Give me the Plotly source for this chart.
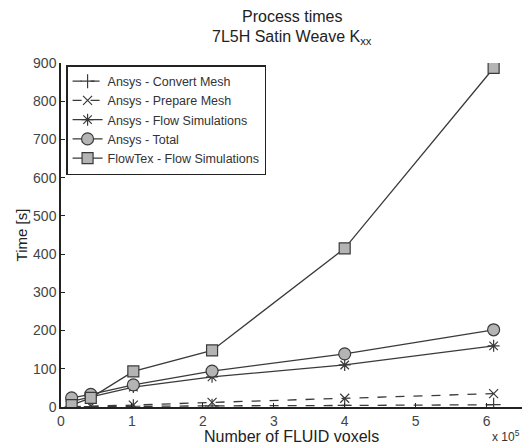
import plotly.graph_objects as go

x_vals = [0.15, 0.42, 1.02, 2.13, 4.0, 6.1]  # in units of 1e5
convert_mesh = [0.5, 1, 2, 3, 4, 6]
prepare_mesh = [1, 2, 5, 12, 23, 35]
flow_sims = [15, 27, 52, 79, 110, 160]
ansys_total = [24, 33, 58, 94, 139, 202]
flowtex = [5, 24, 93, 148, 415, 887]

series_names = ["Ansys - Convert Mesh", "Ansys - Prepare Mesh", "Ansys - Flow Simulations",
                "Ansys - Total", "FlowTex - Flow Simulations"]
x_ticks = [0, 1, 2, 3, 4, 5, 6]
y_ticks = [0, 100, 200, 300, 400, 500, 600, 700, 800, 900]

line_col = "#3a3a3a"
fill_col = "#b4b4b4"
font = "Liberation Sans, Arial, sans-serif"

styles = [
    dict(dash="dash", symbol="cross-thin-open", size=10, fill=line_col),
    dict(dash="dash", symbol="x-thin-open", size=9, fill=line_col),
    dict(dash="solid", symbol="asterisk-open", size=10, fill=line_col),
    dict(dash="solid", symbol="circle", size=12, fill=fill_col),
    dict(dash="solid", symbol="square", size=11, fill=fill_col),
]
data = [convert_mesh, prepare_mesh, flow_sims, ansys_total, flowtex]

L, R, T, B = 61, 6, 63, 41
PH = 448 - T - B

fig = go.Figure()
for name, ys, st in zip(series_names, data, styles):
    fig.add_trace(go.Scatter(
        x=x_vals, y=ys, name=name, mode="lines+markers",
        line=dict(color=line_col, width=1.3, dash=st["dash"]),
        marker=dict(symbol=st["symbol"], size=st["size"], color=st["fill"],
                    line=dict(color=line_col, width=1.2)),
    ))

fig.update_layout(
    width=528, height=448,
    margin=dict(l=L, r=R, t=T, b=B),
    paper_bgcolor="white", plot_bgcolor="white",
    font=dict(family=font, size=13, color="#333"),
    showlegend=True,
    legend=dict(x=0.011, y=0.994, xanchor="left", yanchor="top",
                bordercolor="#222", borderwidth=1.5, bgcolor="white",
                font=dict(size=12.5, color="#333"), tracegroupgap=0,
                itemwidth=30),
    xaxis=dict(range=[0, 6.5], tickvals=x_ticks, ticks="inside", ticklen=4,
               showgrid=False, zeroline=False, showline=True, linecolor="#222",
               linewidth=1.5, tickcolor="#222", tickfont=dict(size=14, color="#444")),
    yaxis=dict(range=[0, 900], tickvals=y_ticks, ticks="inside", ticklen=4,
               showgrid=False, zeroline=False, showline=True, linecolor="#222",
               linewidth=1.5, tickcolor="#222", tickfont=dict(size=14, color="#444"),
               title=dict(text="Time [s]", standoff=2,
                          font=dict(size=15, color="#222"))),
)

cx = ((L + 528 - R) / 2 - L) / (528 - L - R)
fig.add_annotation(text="Process times", xref="paper", yref="paper",
                   x=cx, y=1 + (T - 17) / PH, xanchor="center", yanchor="middle",
                   showarrow=False, font=dict(size=16, color="#222"))
fig.add_annotation(text="7L5H Satin Weave K<sub>xx</sub>", xref="paper", yref="paper",
                   x=cx, y=1 + (T - 37) / PH, xanchor="center", yanchor="middle",
                   showarrow=False, font=dict(size=16, color="#222"))
fig.add_annotation(text="Number of FLUID voxels", xref="paper", yref="paper",
                   x=cx, y=-(436 - T - PH) / PH, xanchor="center", yanchor="middle",
                   showarrow=False, font=dict(size=16, color="#222"))
fig.add_annotation(text="x 10<sup>5</sup>", xref="paper", yref="paper",
                   x=1.0, y=-(446 - T - PH) / PH, xanchor="right", yanchor="bottom",
                   showarrow=False, font=dict(size=12, color="#333"))

fig.write_html("out.html")
